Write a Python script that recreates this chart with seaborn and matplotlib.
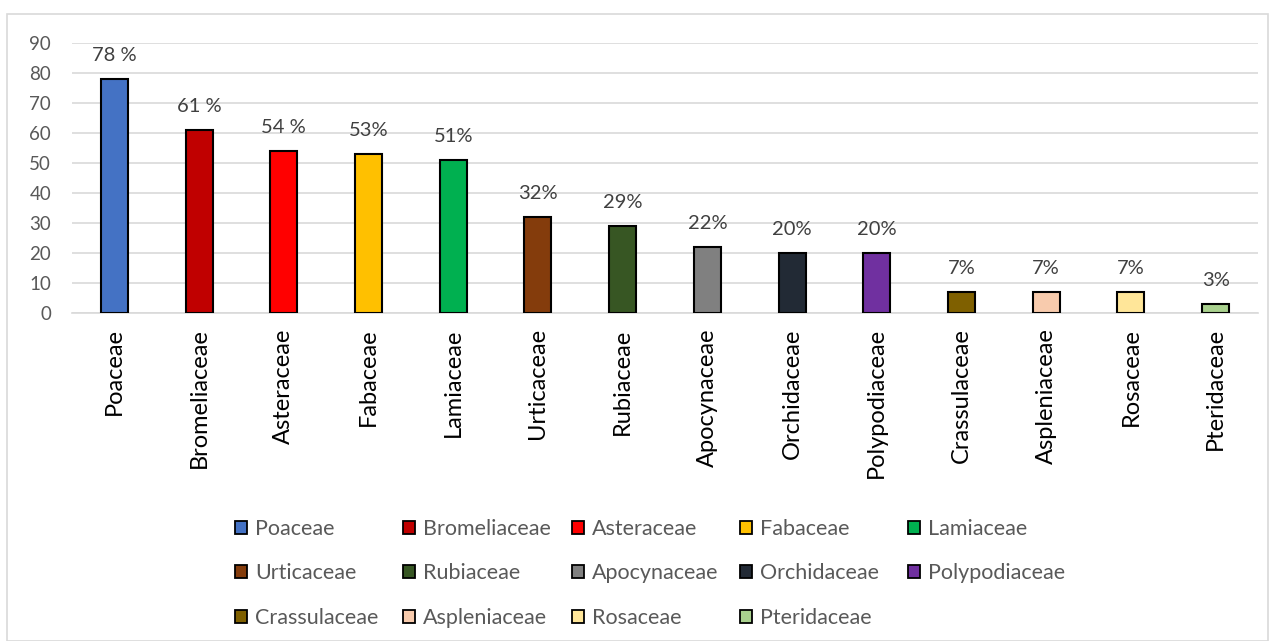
import matplotlib
matplotlib.use("Agg")
import matplotlib.pyplot as plt
import seaborn as sns
import pandas as pd
from matplotlib.patches import Patch, Rectangle

families = ["Poaceae", "Bromeliaceae", "Asteraceae", "Fabaceae", "Lamiaceae",
            "Urticaceae", "Rubiaceae", "Apocynaceae", "Orchidaceae", "Polypodiaceae",
            "Crassulaceae", "Aspleniaceae", "Rosaceae", "Pteridaceae"]
values = [78, 61, 54, 53, 51, 32, 29, 22, 20, 20, 7, 7, 7, 3]
labels = ["78 %", "61 %", "54 %", "53%", "51%", "32%", "29%", "22%", "20%", "20%",
          "7%", "7%", "7%", "3%"]
colors = ["#4472C4", "#C00000", "#FF0000", "#FFC000", "#00B050",
          "#843C0C", "#375623", "#808080", "#222A35", "#7030A0",
          "#7F6000", "#F8CBAD", "#FFE699", "#A9D18E"]

sns.set_theme(style="white")
plt.rcParams["font.family"] = ["Lato", "DejaVu Sans"]

df = pd.DataFrame({"family": families, "value": values})

W, H = 1273, 641
fig = plt.figure(figsize=(W / 100, H / 100), dpi=100)
ax = fig.add_axes([72 / W, 1 - 313 / H, (1258 - 72) / W, (313 - 43) / H])

sns.barplot(data=df, x="family", y="value", hue="family", palette=colors,
            legend=False, width=0.32, edgecolor="black", linewidth=1.5,
            saturation=1, dodge=False, ax=ax, zorder=3)

for cont, lab in zip(ax.containers, labels):
    ax.bar_label(cont, labels=[lab], padding=11, fontsize=14.5, color="#404040")

ax.set_ylim(0, 90)
ax.set_yticks(range(0, 91, 10))
ax.set_xlim(-0.5, len(families) - 0.5)
ax.grid(axis="y", color="#D9D9D9", linewidth=1.2, zorder=0)
ax.set_axisbelow(True)
for s in ["top", "right", "left"]:
    ax.spines[s].set_visible(False)
ax.spines["bottom"].set_color("#D9D9D9")
ax.spines["bottom"].set_linewidth(1.2)
ax.tick_params(axis="y", labelsize=13.5, labelcolor="#595959", length=0, pad=15)
ax.tick_params(axis="x", labelsize=17, labelcolor="black", length=0, pad=11, rotation=90)
ax.set_xlabel("")
ax.set_ylabel("")

# legend: five equally spaced columns, filled row by row
ncol = 5
col_x = [235, 403, 572, 740, 908]
leg_fs = 15.5
fs_px = leg_fs * 100 / 72
for c in range(ncol):
    idx = [i for i in range(c, len(families), ncol)]
    handles = [Patch(facecolor=colors[i], edgecolor="black", linewidth=1.3) for i in idx]
    fig.legend(handles, [families[i] for i in idx], loc="upper left",
               bbox_to_anchor=(col_x[c] / W, 1 - 519 / H), bbox_transform=fig.transFigure,
               frameon=False, fontsize=leg_fs, labelcolor="#595959",
               handlelength=12 / fs_px, handleheight=12 / fs_px,
               handletextpad=8 / fs_px, borderpad=0, borderaxespad=0,
               labelspacing=1.13)

fig.patches.append(Rectangle((7 / W, 0), 1261 / W, 1 - 14 / H,
                             transform=fig.transFigure, fill=False,
                             edgecolor="#D9D9D9", linewidth=1.2))

fig.savefig("out.png", dpi=100)
